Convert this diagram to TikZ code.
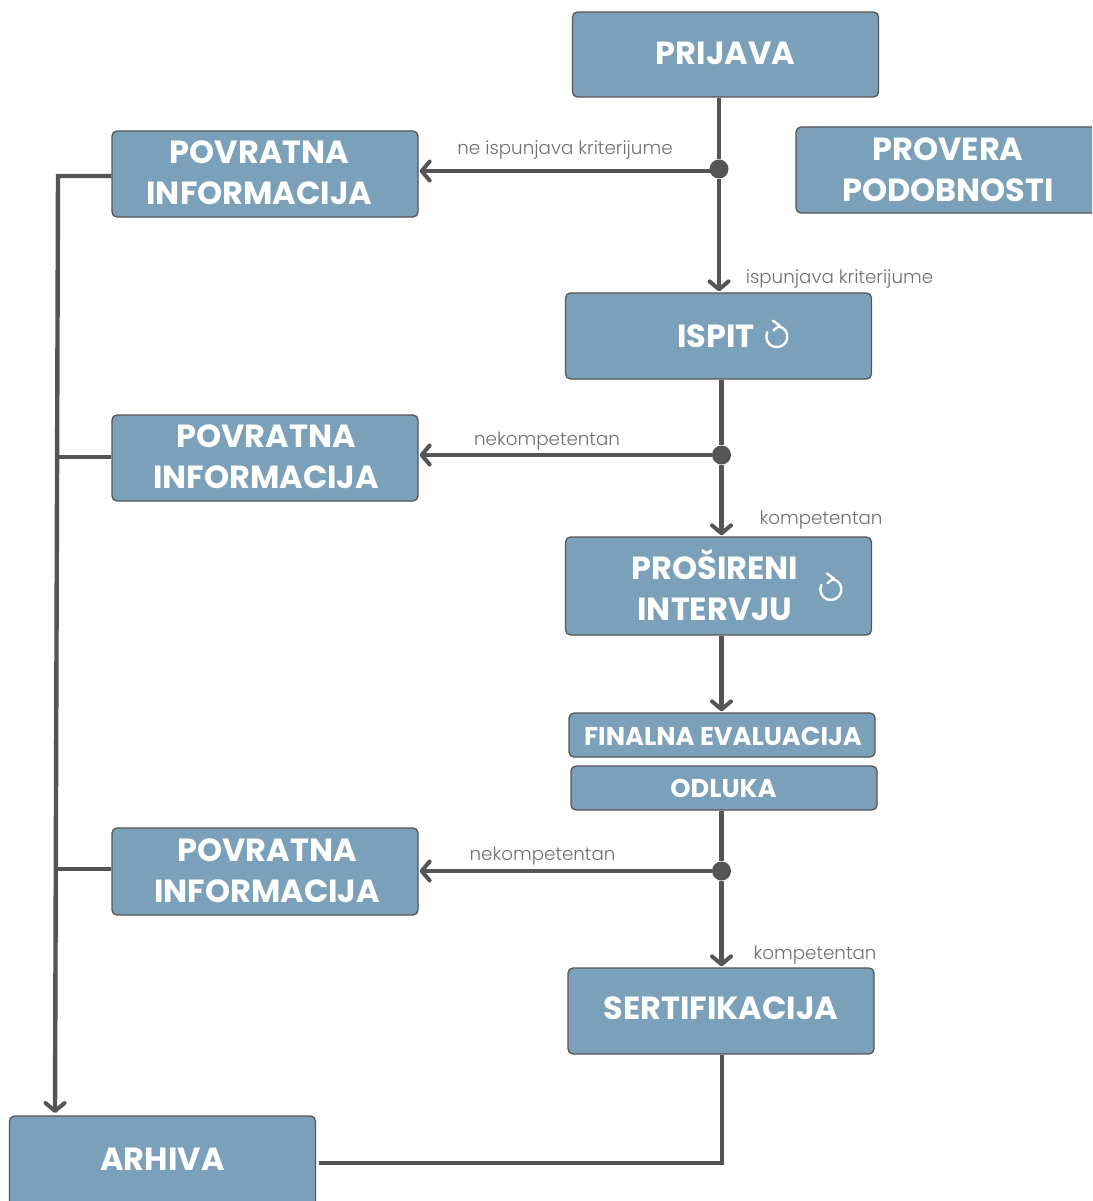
\documentclass[tikz,border=0pt]{standalone}
\usepackage{fontspec}
\setmainfont{Poppins}
\newfontfamily\lightfont{Poppins Light}
\usetikzlibrary{arrows.meta,calc}
\definecolor{boxblue}{HTML}{7BA1BA}
\definecolor{linegray}{HTML}{555555}
\definecolor{labelgray}{HTML}{707070}
\tikzset{
  x=1pt,y=-1pt,
  box/.style={draw=linegray,line width=1.3pt,fill=boxblue,rounded corners=5pt,inner sep=0pt,minimum width=306pt},
  boxtext/.style={text=white,font=\bfseries\fontsize{32}{41}\selectfont,align=center,inner sep=0pt},
  smalltext/.style={text=white,font=\bfseries\fontsize{25.7}{28}\selectfont,align=center,inner sep=0pt},
  edgelabel/.style={text=labelgray,font=\lightfont\fontsize{18.3}{20}\selectfont,inner sep=0pt},
  wire/.style={draw=linegray,line width=4.4pt},
  flow/.style={wire,-{Straight Barb[length=8pt,width=19pt,line width=4pt,round]},shorten >=1pt},
  dot/.style={circle,fill=linegray,minimum size=19pt,inner sep=0pt},
  spin/.style={draw=white,line width=2.4pt,line cap=round,line join=round},
}
\newcommand{\spinicon}[1]{%
  \draw[spin] ($(#1)+(2.6,-10.2)$) arc[start angle=75,end angle=-205,radius=10.5pt];
  \draw[spin] ($(#1)+(-4,-16)$) -- ($(#1)+(2.8,-11)$) -- ($(#1)+(-3.5,-6.5)$);
}
\begin{document}
\begin{tikzpicture}
\useasboundingbox (0,0) rectangle (1092,1201);
\clip (0,0) rectangle (1092,1201);

% boxes
\node[box,minimum height=85pt] (prijava) at (725.5,54.5) {};
\node[box,minimum height=86pt] (pov1) at (265,174) {};
\node[box,minimum height=86pt] (provera) at (949,170) {};
\node[box,minimum height=86pt] (ispit) at (718.5,336) {};
\node[box,minimum height=86pt] (pov2) at (265,458) {};
\node[box,minimum height=98pt] (intervju) at (718.5,586) {};
\node[box,minimum height=44pt] (finalna) at (722,735) {};
\node[box,minimum height=44pt] (odluka) at (724,788) {};
\node[box,minimum height=87pt] (pov3) at (265,871.5) {};
\node[box,minimum height=86pt] (sert) at (721,1011) {};
\node[box,minimum height=100pt] (arhiva) at (162.5,1166) {};

% box texts
\node[boxtext] (tprijava) at (725.5,53) {PRIJAVA};
\node[boxtext] (tpov1) at (259.5,173) {POVRATNA\\INFORMACIJA};
\node[boxtext] (tprovera) at (948,169.5) {PROVERA\\PODOBNOSTI};
\node[boxtext] (tispit) at (716,336) {ISPIT};
\node[boxtext] (tpov2) at (266,457) {POVRATNA\\INFORMACIJA};
\node[boxtext] (tintervju) at (715,585.5) {PROŠIRENI\\INTERVJU};
\node[smalltext] (tfinalna) at (723,736) {FINALNA EVALUACIJA};
\node[smalltext] (todluka) at (723.5,788) {ODLUKA};
\node[boxtext] (tpov3) at (267,871) {POVRATNA\\INFORMACIJA};
\node[boxtext] (tsert) at (721,1008) {SERTIFIKACIJA};
\node[boxtext] (tarhiva) at (162.5,1159) {ARHIVA};

% reload icons
\coordinate (iconA) at (777,336.7);
\coordinate (iconB) at (831,589.5);
\spinicon{iconA}
\spinicon{iconB}

% junctions
\node[dot] (j1) at (719,169) {};
\node[dot] (j2) at (721.5,455) {};
\node[dot] (j3) at (721.5,871) {};

% connectors
\draw[wire] (prijava.south -| j1) -- (j1);
\draw[flow] (j1) -- (j1 |- ispit.north);
\draw[flow] (719,171) -- (pov1.east |- 0,171);
\draw[wire] (ispit.south -| j2) -- (j2);
\draw[flow] (j2) -- (j2 |- intervju.north);
\draw[flow] (j2) -- (pov2.east |- j2);
\draw[flow] (intervju.south -| j2) -- (j2 |- finalna.north);
\draw[wire] (odluka.south -| j3) -- (j3);
\draw[flow] (j3) -- (j3 |- sert.north);
\draw[flow] (j3) -- (pov3.east |- j3);

\coordinate (busTop) at (58,176);
\coordinate (busMid2) at (57,457);
\coordinate (busMid3) at (56,869);
\coordinate (busEnd) at (55,1114);
\draw[flow,line join=miter] (pov1.west |- busTop) -- (busTop) -- (busEnd);
\draw[wire] (pov2.west |- busMid2) -- (busMid2);
\draw[wire] (pov3.west |- busMid3) -- (busMid3);

\coordinate (cornerS) at (722,1163);
\draw[wire,line join=miter] (sert.south -| cornerS) -- (cornerS) -- (319,1163);

% labels
\node[edgelabel] (l1) at (565,150) {ne ispunjava kriterijume};
\node[edgelabel] (l2) at (839.5,279) {ispunjava kriterijume};
\node[edgelabel] (l3) at (547,441) {nekompetentan};
\node[edgelabel] (l4) at (821,520) {kompetentan};
\node[edgelabel] (l5) at (542.5,856) {nekompetentan};
\node[edgelabel] (l6) at (815,955) {kompetentan};
\end{tikzpicture}
\end{document}
